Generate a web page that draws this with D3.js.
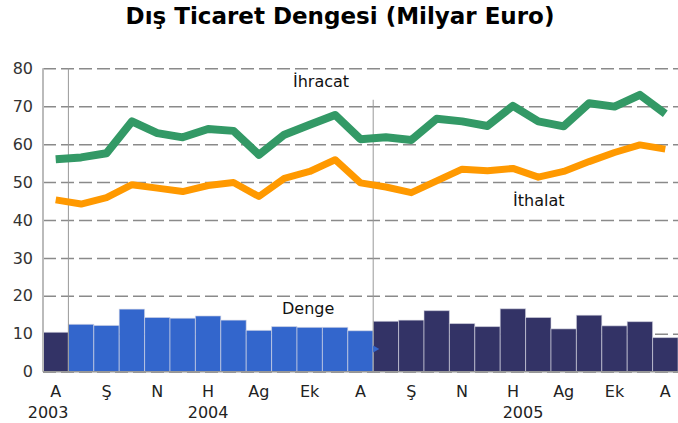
<!DOCTYPE html>
<html lang="tr">
<head>
  <meta charset="UTF-8">
  <title>Dış Ticaret Dengesi</title>
  <script src="https://d3js.org/d3.v7.min.js"></script>
  <style>
    body { margin: 0; background: #fff; }
    svg { display: block; font-family: "DejaVu Sans", sans-serif; }
  </style>
</head>
<body>
  <div id="chart"></div>
  <script>
    // Aralik 2003 - Aralik 2005, aylik
    const monthLabels = ['A', '', 'Ş', '', 'N', '', 'H', '', 'Ag', '', 'Ek', '', 'A',
                         '', 'Ş', '', 'N', '', 'H', '', 'Ag', '', 'Ek', '', 'A'];
    const years = [2003, 2004, 2004, 2004, 2004, 2004, 2004, 2004, 2004, 2004, 2004, 2004, 2004,
                   2005, 2005, 2005, 2005, 2005, 2005, 2005, 2005, 2005, 2005, 2005, 2005];
    const ihracat = [56.0, 56.5, 57.6, 66.0, 62.9, 61.8, 64.0, 63.5, 57.2, 62.5, 65.1, 67.7, 61.3,
                     61.8, 61.1, 66.7, 66.0, 64.8, 70.1, 66.0, 64.7, 70.8, 69.9, 73.0, 68.0];
    const ithalat = [45.3, 44.2, 45.9, 49.3, 48.4, 47.5, 49.1, 49.9, 46.2, 51.0, 52.8, 55.9, 49.8,
                     48.7, 47.2, 50.3, 53.4, 53.0, 53.6, 51.3, 52.8, 55.4, 57.8, 59.8, 58.7];
    const denge = [10.4, 12.5, 12.2, 16.5, 14.3, 14.1, 14.7, 13.6, 10.9, 11.9, 11.7, 11.7, 10.8,
                   13.3, 13.6, 16.1, 12.7, 11.9, 16.6, 14.3, 11.3, 14.9, 12.1, 13.2, 9.0];
    const yTicks = [0, 10, 20, 30, 40, 50, 60, 70, 80];
    const yearLabels = [{ year: '2003', at: -0.3 }, { year: '2004', at: 6 }, { year: '2005', at: 18.4 }];

    const W = 678, H = 423;
    const mLeft = 43, mRight = 678, mTop = 68.3, mBottom = 371.7;

    const svg = d3.select('#chart').append('svg')
      .attr('width', W).attr('height', H);

    const x = d3.scaleBand().domain(d3.range(denge.length)).range([mLeft, mRight]);
    const y = d3.scaleLinear().domain([0, 80]).range([mBottom, mTop]);
    const cx = i => x(i) + x.bandwidth() / 2;

    svg.append('text')
      .attr('x', 340).attr('y', 24)
      .attr('text-anchor', 'middle')
      .attr('font-weight', 'bold')
      .attr('font-size', 23)
      .attr('fill', '#000')
      .text('Dış Ticaret Dengesi (Milyar Euro)');

    // y axis + dashed grid (behind the bars)
    const yAxis = svg.append('g')
      .attr('transform', `translate(${mLeft},0)`)
      .call(d3.axisLeft(y).tickValues(yTicks).tickSize(-(mRight - mLeft)).tickPadding(10));
    yAxis.select('.domain').remove();
    yAxis.selectAll('.tick line')
      .attr('stroke', '#8a8a8a')
      .attr('stroke-width', 1.5)
      .attr('stroke-dasharray', '13,5');
    yAxis.selectAll('.tick text')
      .attr('font-size', 16)
      .attr('fill', '#333')
      .style('font-family', '"DejaVu Sans", sans-serif');

    // bars
    svg.append('g').selectAll('rect')
      .data(denge)
      .join('rect')
      .attr('x', (d, i) => x(i))
      .attr('y', d => y(d))
      .attr('width', x.bandwidth())
      .attr('height', d => y(0) - y(d))
      .attr('fill', (d, i) => years[i] === 2004 ? '#3366cc' : '#333366')
      .attr('stroke', 'rgba(220,220,230,0.6)')
      .attr('stroke-width', 1);

    // axis frame lines
    svg.append('line')
      .attr('x1', mLeft).attr('x2', mLeft).attr('y1', mTop).attr('y2', mBottom)
      .attr('stroke', '#bbb').attr('stroke-width', 2);
    svg.append('line')
      .attr('x1', mLeft).attr('x2', mRight).attr('y1', mBottom).attr('y2', mBottom)
      .attr('stroke', '#999').attr('stroke-width', 1.5);

    // year dividers
    svg.append('line')
      .attr('x1', x(1)).attr('x2', x(1)).attr('y1', y(80)).attr('y2', mBottom)
      .attr('stroke', '#999').attr('stroke-width', 1);
    svg.append('line')
      .attr('x1', x(13)).attr('x2', x(13)).attr('y1', y(71.7)).attr('y2', mBottom)
      .attr('stroke', '#999').attr('stroke-width', 1);

    // small pointer at the end of the 2004 bars
    svg.append('path')
      .attr('d', d3.symbol(d3.symbolTriangle, 22)())
      .attr('transform', `translate(${x(13) + 2},${y(6)}) rotate(90)`)
      .attr('fill', '#3366cc');

    // lines
    const line = d3.line().x((d, i) => cx(i)).y(d => y(d));
    svg.append('path')
      .datum(ithalat)
      .attr('d', line)
      .attr('fill', 'none')
      .attr('stroke', '#ff9900')
      .attr('stroke-width', 7)
      .attr('stroke-linejoin', 'round');
    svg.append('path')
      .datum(ihracat)
      .attr('d', line)
      .attr('fill', 'none')
      .attr('stroke', '#339966')
      .attr('stroke-width', 8)
      .attr('stroke-linejoin', 'round');

    // series labels
    const lab = (tx, ty, t) => svg.append('text')
      .attr('x', tx).attr('y', ty)
      .attr('font-size', 16).attr('fill', '#111')
      .text(t);
    lab(293, 87, 'İhracat');
    lab(513, 206, 'İthalat');
    lab(282, 314, 'Denge');

    // x axis
    const xAxis = svg.append('g')
      .attr('transform', `translate(0,${mBottom})`)
      .call(d3.axisBottom(x).tickSize(0).tickPadding(14).tickFormat(i => monthLabels[i]));
    xAxis.select('.domain').remove();
    xAxis.selectAll('.tick text')
      .attr('font-size', 16)
      .attr('fill', '#222')
      .style('font-family', '"DejaVu Sans", sans-serif');

    svg.append('g').selectAll('text')
      .data(yearLabels)
      .join('text')
      .attr('x', d => cx(0) + d.at * x.step())
      .attr('y', 418)
      .attr('text-anchor', 'middle')
      .attr('font-size', 16)
      .attr('fill', '#222')
      .text(d => d.year);
  </script>
</body>
</html>
